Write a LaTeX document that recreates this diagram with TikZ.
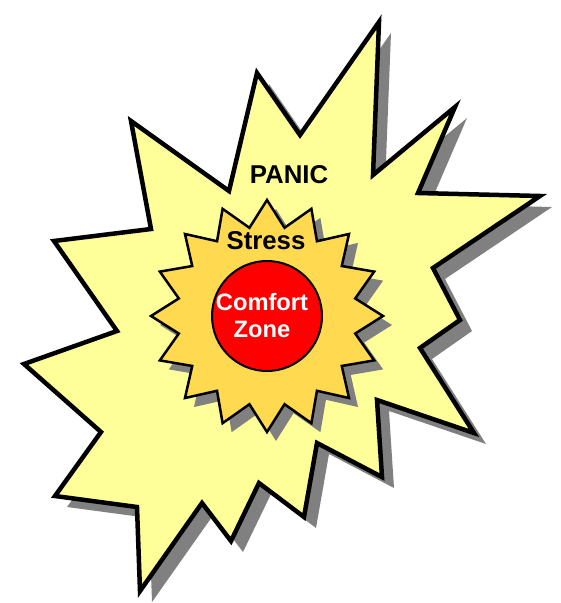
\documentclass[tikz,border=0pt]{standalone}
\usepackage{fontspec}
\setmainfont{Liberation Sans}
\usepackage{tikz}
\usetikzlibrary{shapes.geometric,shadows}
\definecolor{panicfill}{RGB}{255,255,153}
\definecolor{stressfill}{RGB}{255,217,80}
\definecolor{zonefill}{RGB}{255,0,0}
\definecolor{shadowgray}{RGB}{128,128,128}

\begin{document}
\begin{tikzpicture}[x=1pt,y=-1pt,
  panicstar/.style={draw=black,line width=4.5pt,line join=miter,fill=panicfill,
    drop shadow={shadow xshift=12pt,shadow yshift=-11pt,fill=shadowgray,opacity=1}},
  stressstar/.style={star,star points=16,star point ratio=1.29,minimum size=232pt,
    inner sep=0pt,draw=black,line width=2.5pt,fill=stressfill,
    drop shadow={shadow xshift=9pt,shadow yshift=-9pt,fill=shadowgray,opacity=1}},
  zone/.style={circle,minimum size=110pt,inner sep=0pt,draw=black,line width=2pt,fill=zonefill},
  lbl/.style={anchor=base,inner sep=0pt,font=\fontsize{25.8pt}{30pt}\selectfont\bfseries},
  zonelbl/.style={anchor=base,inner sep=0pt,text=white,font=\fontsize{23.7pt}{28pt}\selectfont\bfseries}]
\useasboundingbox (0,0) rectangle (561,603);
% panic: the big outer burst
\draw[panicstar] (257,73) -- (300,135) -- (379,22) -- (373,175) -- (455,107) -- (418,193)
  -- (540,196) -- (433,268) -- (460,320) -- (420,348) -- (474,433) -- (377,400)
  -- (382,477) -- (317,443) -- (304,517) -- (259,483) -- (231,541) -- (202,503)
  -- (140,591) -- (137,507) -- (55,496) -- (101,432) -- (24,364) -- (117,331)
  -- (54,241) -- (151,229) -- (131,121) -- (229,191) -- cycle;
% stress: the smaller burst
\node[stressstar] (stressburst) at (267,316) {};
% comfort zone
\node[zone] (zonedisc) at (267,316) {};
\node[lbl] (panic) at (289,183) {PANIC};
\node[lbl] (stress) at (266,249) {Stress};
\node[zonelbl] (comfort) at (262,310) {Comfort};
\node[zonelbl] (zonetxt) at (262,337) {Zone};
\end{tikzpicture}
\end{document}
